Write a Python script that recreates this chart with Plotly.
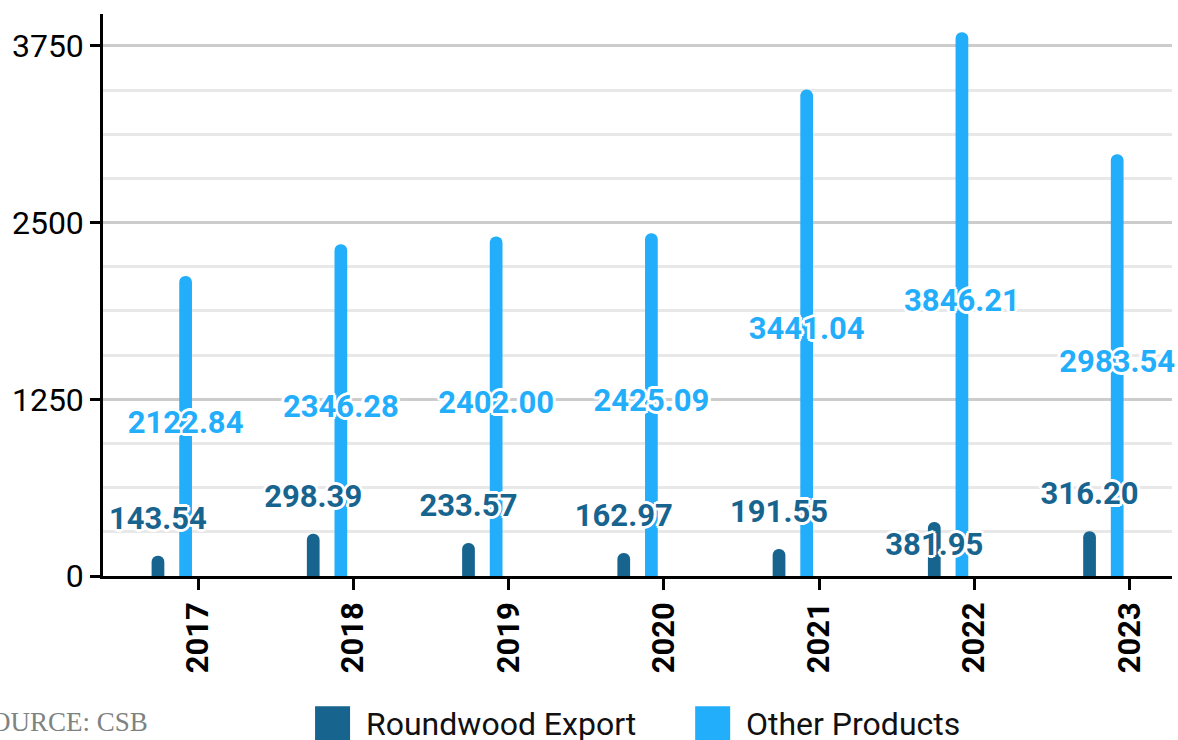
import plotly.graph_objects as go

# Data
years = [2017, 2018, 2019, 2020, 2021, 2022, 2023]
roundwood = [143.54, 298.39, 233.57, 162.97, 191.55, 381.95, 316.20]
other = [2122.84, 2346.28, 2402.00, 2425.09, 3441.04, 3846.21, 2983.54]
# where the roundwood value label sits: above the bar or at its middle
roundwood_label_pos = ['above', 'above', 'above', 'above', 'above', 'middle', 'above']

DARK = '#17648f'
LIGHT = '#23aefc'
FONT = 'Roboto'

# plot area in pixels (used to place legend / source in paper coords)
L, R, T, B = 103, 1171.7, 14, 575.7


def px_x(x):
    return (x - L) / (R - L)


def px_y(y):
    return (B - y) / (B - T)


outline = ("3px 0 0 #fff, -3px 0 0 #fff, 0 3px 0 #fff, 0 -3px 0 #fff, "
           "2px 2px 0 #fff, -2px -2px 0 #fff, 2px -2px 0 #fff, -2px 2px 0 #fff")

fig = go.Figure()

# Bars
fig.add_trace(go.Bar(x=years, y=roundwood, name='Roundwood Export',
                     width=0.082, offset=-0.299,
                     marker=dict(color=DARK, cornerradius=6, line_width=0)))
fig.add_trace(go.Bar(x=years, y=other, name='Other Products',
                     width=0.082, offset=-0.121,
                     marker=dict(color=LIGHT, cornerradius=6, line_width=0)))

# Value labels
rw_label_y = [v + 245 if p == 'above' else v / 2 + 15
              for v, p in zip(roundwood, roundwood_label_pos)]
op_label_y = [v / 2 + 8 for v in other]

fig.add_trace(go.Scatter(x=[y - 0.258 for y in years], y=rw_label_y,
                         mode='text', text=[f'{v:.2f}' for v in roundwood],
                         textposition='middle center', cliponaxis=False,
                         textfont=dict(family=FONT, size=31, color=DARK,
                                       weight='bold', shadow=outline),
                         hoverinfo='skip'))
fig.add_trace(go.Scatter(x=[y - 0.08 for y in years], y=op_label_y,
                         mode='text', text=[f'{v:.2f}' for v in other],
                         textposition='middle center', cliponaxis=False,
                         textfont=dict(family=FONT, size=31, color=LIGHT,
                                       weight='bold', shadow=outline),
                         hoverinfo='skip'))

# Manual legend (large square swatches)
legend_items = [('Roundwood Export', DARK, 315), ('Other Products', LIGHT, 695)]
for label, color, x0 in legend_items:
    fig.add_shape(type='rect', xref='paper', yref='paper',
                  x0=px_x(x0), x1=px_x(x0 + 35), y0=px_y(742), y1=px_y(706),
                  fillcolor=color, line_width=0)
    fig.add_annotation(text=label, xref='paper', yref='paper',
                       x=px_x(x0 + 49), y=px_y(724), xanchor='left', yanchor='middle',
                       showarrow=False, font=dict(family=FONT, size=32, color='#111111'))

# Source note (partly cut at the left edge, as in the original)
fig.add_annotation(text='SOURCE: CSB', xref='paper', yref='paper',
                   x=px_x(150), y=px_y(722), xanchor='right', yanchor='middle',
                   showarrow=False,
                   font=dict(family='Liberation Serif', size=27, color='#7d8381'))

fig.update_layout(
    width=1178, height=740,
    margin=dict(l=L, r=1178 - R, t=T, b=740 - B),
    paper_bgcolor='white', plot_bgcolor='white',
    showlegend=False,
    barmode='overlay',
    font=dict(family=FONT, size=31, color='#000000'),
    xaxis=dict(range=[2016.388, 2023.273], tickvals=years,
               ticktext=[str(y) for y in years], tickangle=-90,
               tickfont=dict(family=FONT, size=31, weight='bold'),
               ticks='outside', ticklen=11, tickwidth=2.5, tickcolor='black',
               showline=True, linecolor='black', linewidth=2.5,
               showgrid=False, zeroline=False),
    yaxis=dict(range=[0, 3976], tickmode='linear', tick0=0, dtick=1250,
               tickfont=dict(family=FONT, size=32),
               ticks='outside', ticklen=10, tickwidth=2.5, tickcolor='black',
               showline=True, linecolor='black', linewidth=2.5,
               showgrid=True, gridcolor='#cccccc', gridwidth=2.5,
               zeroline=False,
               minor=dict(dtick=312.5, showgrid=True, gridcolor='#e8e8e8',
                          gridwidth=2.5, ticks='')),
)

# drop the default page margin so the figure sits at the window's corner
fig.write_html('out.html', config={'displayModeBar': False},
               post_script="document.body.style.margin = '0';")
